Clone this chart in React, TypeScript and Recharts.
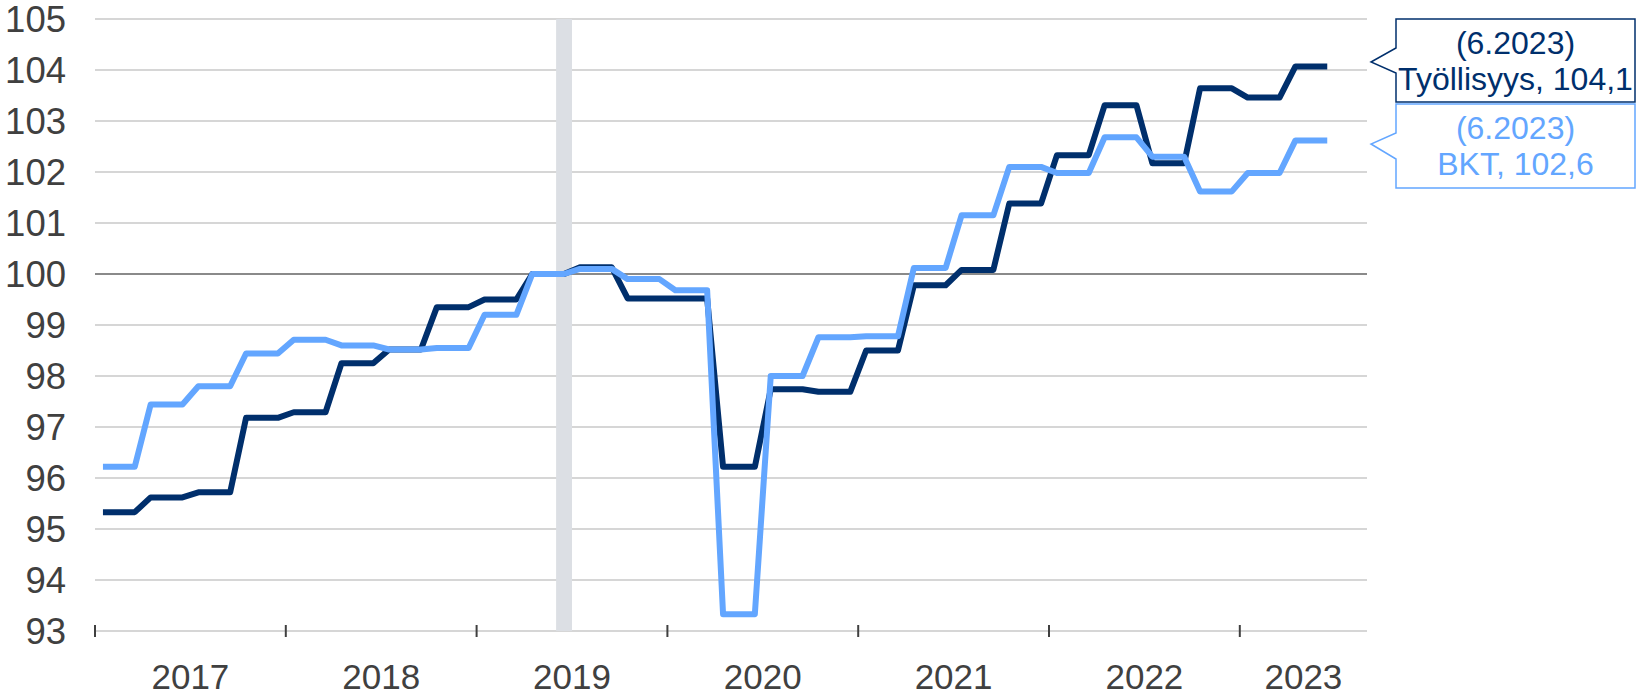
import React from 'react';
import { LineChart, Line, XAxis, YAxis, CartesianGrid, ReferenceLine, ReferenceArea } from 'recharts';

// Monthly points, Jan 2017 – Jun 2023 (quarterly figures held for each month)
const tyollisyys = [
  95.33, 95.33, 95.33, 95.62, 95.62, 95.62, 95.72, 95.72, 95.72, 97.18, 97.18, 97.18,
  97.29, 97.29, 97.29, 98.25, 98.25, 98.25, 98.52, 98.52, 98.52, 99.35, 99.35, 99.35,
  99.5, 99.5, 99.5, 100.0, 100.0, 100.0, 100.13, 100.13, 100.13, 99.52, 99.52, 99.52,
  99.52, 99.52, 99.52, 96.22, 96.22, 96.22, 97.74, 97.74, 97.74, 97.69, 97.69, 97.69,
  98.5, 98.5, 98.5, 99.78, 99.78, 99.78, 100.08, 100.08, 100.08, 101.38, 101.38, 101.38,
  102.33, 102.33, 102.33, 103.31, 103.31, 103.31, 102.17, 102.17, 102.17, 103.64, 103.64, 103.64,
  103.46, 103.46, 103.46, 104.07, 104.07, 104.07,
];

const bkt = [
  96.22, 96.22, 96.22, 97.44, 97.44, 97.44, 97.8, 97.8, 97.8, 98.44, 98.44, 98.44,
  98.71, 98.71, 98.71, 98.6, 98.6, 98.6, 98.52, 98.52, 98.52, 98.55, 98.55, 98.55,
  99.2, 99.2, 99.2, 100.0, 100.0, 100.0, 100.1, 100.1, 100.1, 99.9, 99.9, 99.9,
  99.68, 99.68, 99.68, 93.33, 93.33, 93.33, 98.0, 98.0, 98.0, 98.76, 98.76, 98.76,
  98.78, 98.78, 98.78, 100.12, 100.12, 100.12, 101.15, 101.15, 101.15, 102.1, 102.1, 102.1,
  101.98, 101.98, 101.98, 102.68, 102.68, 102.68, 102.3, 102.3, 102.3, 101.62, 101.62, 101.62,
  101.98, 101.98, 101.98, 102.62, 102.62, 102.62,
];

const years = ['2017', '2018', '2019', '2020', '2021', '2022', '2023'];
const yearStarts = [0, 12, 24, 36, 48, 60, 72];
const monthsShown = [12, 12, 12, 12, 12, 12, 8];
const yTicks = [93, 94, 95, 96, 97, 98, 99, 100, 101, 102, 103, 104, 105];
const baseMonth = 29; // 6.2019 = 100

const data = tyollisyys.map((v, i) => ({ m: i + 0.5, tyollisyys: v, bkt: bkt[i] }));

const W = 1637;
const H = 695;
const PLOT_LEFT = 95;
const PLOT_RIGHT = 1367;
const MONTH_PX = (PLOT_RIGHT - PLOT_LEFT) / 80;
const FONT = '"Liberation Sans", Arial, sans-serif';
const DARK = '#002F6C';
const LIGHT = '#63A6FF';

function YearTick(props: any) {
  const { x, y, payload } = props;
  const idx = yearStarts.indexOf(payload.value);
  if (idx < 0) return null;
  return (
    <g>
      <line x1={x} x2={x} y1={y - 6} y2={y + 6} stroke="#404040" strokeWidth={2} />
      <text
        x={x + (monthsShown[idx] * MONTH_PX) / 2}
        y={y + 58}
        textAnchor="middle"
        fontSize={35}
        fill="#404040"
        fontFamily={FONT}
      >
        {years[idx]}
      </text>
    </g>
  );
}

function Callout({ top, bottom, notchTop, notchBottom, tipY, color, lines }: any) {
  const x0 = 1396;
  const x1 = 1635;
  const tipX = 1371;
  const cx = (x0 + x1) / 2;
  const mid = (top + bottom) / 2;
  return (
    <g>
      <path
        d={`M${x0},${top} L${x1},${top} L${x1},${bottom} L${x0},${bottom} L${x0},${notchBottom} L${tipX},${tipY} L${x0},${notchTop} Z`}
        fill="#fff"
        stroke={color}
        strokeWidth={1.5}
      />
      <text x={cx} y={mid - 7} textAnchor="middle" fontSize={32} fill={color} fontFamily={FONT}>
        {lines[0]}
      </text>
      <text x={cx} y={mid + 29} textAnchor="middle" fontSize={32} fill={color} fontFamily={FONT}>
        {lines[1]}
      </text>
    </g>
  );
}

export default function App() {
  return (
    <div style={{ position: 'absolute', left: 0, top: 0, width: W, height: H, background: '#fff' }}>
      <LineChart
        width={W}
        height={H}
        data={data}
        margin={{ top: 19, right: W - PLOT_RIGHT, bottom: 0, left: 0 }}
      >
        <ReferenceArea x1={baseMonth} x2={baseMonth + 1} y1={93} y2={105} fill="#DCDFE4" fillOpacity={1} stroke="none" />
        <CartesianGrid vertical={false} stroke="#C8C8C8" strokeWidth={1.5} />
        <ReferenceLine y={100} stroke="#8A8A8A" strokeWidth={2} />
        <XAxis
          type="number"
          dataKey="m"
          domain={[0, 80]}
          ticks={yearStarts}
          interval={0}
          tickLine={false}
          axisLine={false}
          tickSize={0}
          tickMargin={0}
          height={H - 19 - 612}
          tick={<YearTick />}
        />
        <YAxis
          type="number"
          domain={[93, 105]}
          ticks={yTicks}
          interval={0}
          tickLine={false}
          axisLine={false}
          tickSize={0}
          tickMargin={29}
          width={PLOT_LEFT}
          tick={{ fontSize: 36.5, fill: '#404040', fontFamily: FONT }}
        />
        <Line
          type="linear"
          dataKey="tyollisyys"
          stroke={DARK}
          strokeWidth={6}
          dot={false}
          strokeLinejoin="round"
          isAnimationActive={false}
        />
        <Line
          type="linear"
          dataKey="bkt"
          stroke={LIGHT}
          strokeWidth={6}
          dot={false}
          strokeLinejoin="round"
          isAnimationActive={false}
        />
      </LineChart>
      <svg width={W} height={H} style={{ position: 'absolute', left: 0, top: 0, pointerEvents: 'none' }}>
        <Callout top={19} bottom={102} notchTop={48} notchBottom={73} tipY={62} color={DARK} lines={['(6.2023)', 'Työllisyys, 104,1']} />
        <Callout top={104} bottom={188} notchTop={133} notchBottom={159} tipY={144} color={LIGHT} lines={['(6.2023)', 'BKT, 102,6']} />
      </svg>
    </div>
  );
}
